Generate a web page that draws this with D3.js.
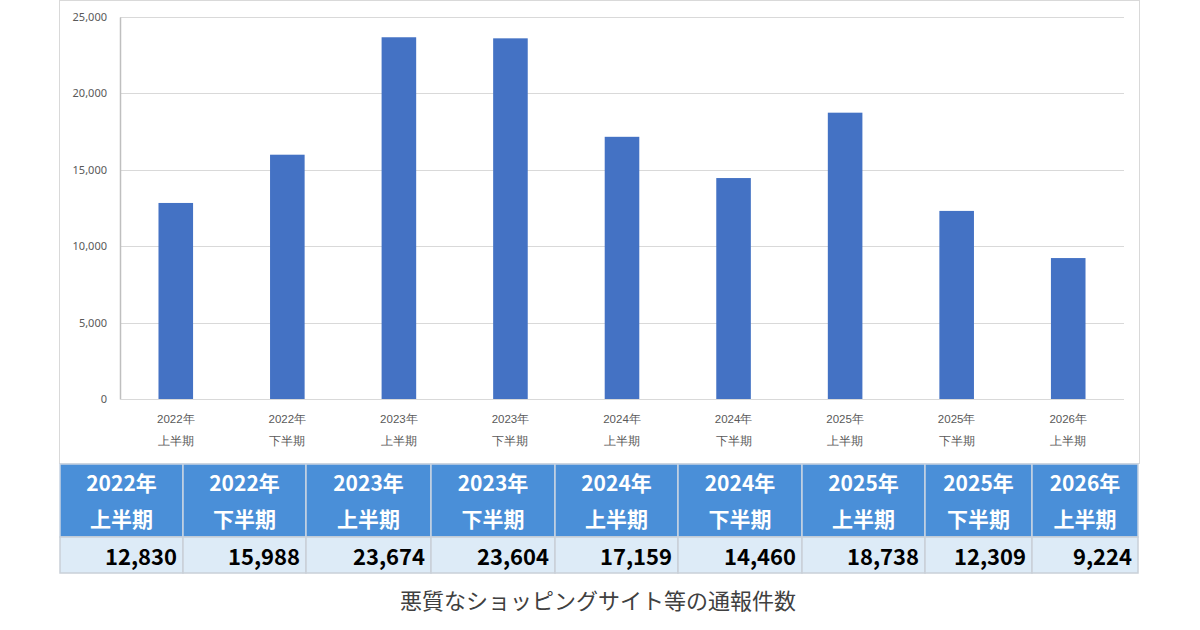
<!DOCTYPE html>
<html>
<head>
<meta charset="utf-8">
<script src="https://cdn.jsdelivr.net/npm/d3@7"></script>
<style>
  body { margin: 0; background: #fff; }
  svg { display: block; font-family: "Noto Sans CJK JP", "Noto Sans", sans-serif; }
</style>
</head>
<body>
<svg id="chart" width="1200" height="630"></svg>
<script>
// data
const years = ['2022年', '2022年', '2023年', '2023年', '2024年', '2024年', '2025年', '2025年', '2026年'];
const halves = ['上半期', '下半期', '上半期', '下半期', '上半期', '下半期', '上半期', '下半期', '上半期'];
const counts = [12830, 15988, 23674, 23604, 17159, 14460, 18738, 12309, 9224];
const yTicks = [0, 5000, 10000, 15000, 20000, 25000];
const caption = '悪質なショッピングサイト等の通報件数';

// layout
const W = 1200, H = 630;
const box = {left: 60, right: 1140, top: 0, bottom: 463};
const plot = {left: 120, right: 1124, top: 17, bottom: 399};
const colWidths = [123, 123, 125, 124, 123, 124, 123, 107, 106];
const tableTop = 464, headH = 73, rowH = 36;

const svg = d3.select('#chart');
const cats = counts.map((d, i) => i);

// chart frame
svg.append('rect')
  .attr('x', box.left - 0.5).attr('y', box.top + 0.5)
  .attr('width', box.right - box.left).attr('height', box.bottom - box.top)
  .attr('fill', '#fff').attr('stroke', '#d9d9d9');

const x = d3.scaleBand().domain(cats).range([plot.left, plot.right]).paddingInner(0.69).paddingOuter(0.345);
const y = d3.scaleLinear().domain([0, 25000]).range([plot.bottom, plot.top]);

// gridlines
svg.append('g').selectAll('line')
  .data(yTicks.slice(1))
  .enter().append('line')
  .attr('x1', plot.left).attr('x2', plot.right)
  .attr('y1', d => Math.round(y(d)) + 0.5).attr('y2', d => Math.round(y(d)) + 0.5)
  .attr('stroke', '#d9d9d9').attr('stroke-width', 1.2);

// y axis
const yAxis = svg.append('g')
  .attr('transform', `translate(${plot.left},0)`)
  .call(d3.axisLeft(y).tickValues(yTicks).tickSize(0).tickPadding(13).tickFormat(d3.format(',')));
yAxis.select('.domain').attr('stroke', '#bfbfbf').attr('stroke-width', 1.5);
yAxis.selectAll('text').attr('fill', '#595959').style('font-size', '11px').style('font-family', '"Noto Sans", sans-serif');

// baseline
svg.append('line')
  .attr('x1', plot.left).attr('x2', plot.right)
  .attr('y1', plot.bottom + 0.5).attr('y2', plot.bottom + 0.5)
  .attr('stroke', '#d9d9d9').attr('stroke-width', 1.2);

// bars
svg.append('g').selectAll('rect')
  .data(counts)
  .enter().append('rect')
  .attr('x', (d, i) => x(i))
  .attr('y', d => y(d))
  .attr('width', x.bandwidth())
  .attr('height', d => y(0) - y(d))
  .attr('fill', '#4472c4');

// x labels (two lines each)
const xAxis = svg.append('g')
  .attr('transform', `translate(0,${plot.bottom})`)
  .call(d3.axisBottom(x).tickSize(0).tickFormat(''));
xAxis.select('.domain').remove();
xAxis.selectAll('.tick text').remove();
const ticks = xAxis.selectAll('.tick');
ticks.append('text')
  .attr('y', 24).attr('text-anchor', 'middle')
  .attr('fill', '#595959').style('font-size', '11.5px')
  .text(d => years[d]);
ticks.append('text')
  .attr('y', 46).attr('text-anchor', 'middle')
  .attr('fill', '#595959').style('font-size', '11.5px')
  .text(d => halves[d]);

// table
const colX = d3.cumsum([box.left, ...colWidths]);
const table = svg.append('g');
const cols = table.selectAll('g')
  .data(cats)
  .enter().append('g')
  .attr('transform', d => `translate(${colX[d]},${tableTop})`);

cols.append('rect')
  .attr('width', d => colWidths[d]).attr('height', headH)
  .attr('fill', '#4a8fd8').attr('stroke', '#c7d3e2').attr('stroke-width', 1.5);
cols.append('rect')
  .attr('y', headH)
  .attr('width', d => colWidths[d]).attr('height', rowH)
  .attr('fill', '#ddebf7').attr('stroke', '#c9d0d8').attr('stroke-width', 1.5);

const head = cols.append('text')
  .attr('text-anchor', 'middle')
  .attr('fill', '#fff')
  .style('font-size', '21px')
  .style('font-weight', 'bold');
head.append('tspan').attr('x', d => colWidths[d] / 2).attr('y', 27).text(d => years[d]);
head.append('tspan').attr('x', d => colWidths[d] / 2).attr('y', 63).text(d => halves[d]);

cols.append('text')
  .attr('x', d => colWidths[d] - 6)
  .attr('y', headH + 28)
  .attr('text-anchor', 'end')
  .attr('fill', '#000')
  .style('font-size', '22px')
  .style('font-weight', 'bold')
  .text(d => d3.format(',')(counts[d]));

// caption
svg.append('text')
  .attr('x', 598).attr('y', 609)
  .attr('text-anchor', 'middle')
  .attr('fill', '#404040')
  .style('font-size', '22px')
  .text(caption);
</script>
</body>
</html>
